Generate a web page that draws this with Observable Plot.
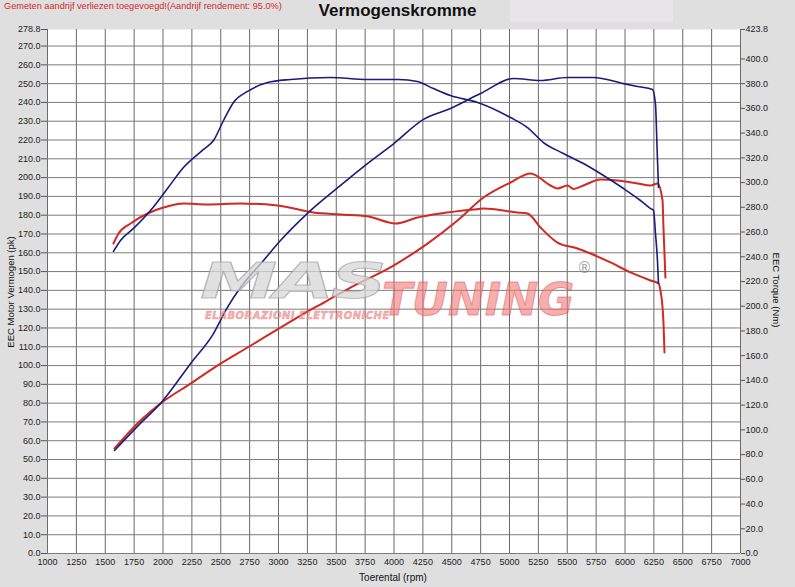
<!DOCTYPE html>
<html>
<head>
<meta charset="utf-8">
<script src="https://cdn.jsdelivr.net/npm/d3@7"></script>
<script src="https://cdn.jsdelivr.net/npm/@observablehq/plot@0.6"></script>
<style>
  body { margin: 0; background: #dfdfdf; }
  #wrap { position: relative; width: 795px; height: 587px; background: #dfdfdf; overflow: hidden; font-family: "Liberation Sans", Arial, sans-serif; }
  #wrap svg { position: absolute; left: 0; top: 0; }
  .abs { position: absolute; white-space: nowrap; }
  .wm { position: absolute; white-space: nowrap; pointer-events: none; line-height: 1; font-family: "DejaVu Sans", sans-serif; font-weight: bold; font-style: italic; }
</style>
</head>
<body>
<div id="wrap">
  <div class="abs" style="left:510px;top:0;width:163px;height:22px;background:#e7e5e7"></div>
  <div class="abs" style="left:4px;top:1px;font-size:9.2px;color:#d42a28">Gemeten aandrijf verliezen toegevoegd!(Aandrijf rendement: 95.0%)</div>
  <div class="abs" style="left:0;width:795px;top:1px;text-align:center;font-size:17px;font-weight:bold;color:#111">Vermogenskromme</div>
  <div id="chart"></div>
  <div class="abs" style="left:393px;top:572px;transform:translateX(-50%);font-size:10px;color:#111">Toerental (rpm)</div>
  <div class="abs" style="left:10px;top:292px;transform:translate(-50%,-50%) rotate(-90deg);font-size:9.5px;color:#111">EEC Motor Vermogen (pk)</div>
  <div class="abs" style="left:776px;top:290px;transform:translate(-50%,-50%) rotate(90deg);font-size:9.5px;color:#111">EEC Torque (Nm)</div>
  <div class="wm" style="left:200px;top:256px;font-size:50px;color:rgba(215,215,215,0.75);-webkit-text-stroke:1px rgba(150,150,150,0.6);transform:scaleX(1.55);transform-origin:left top;letter-spacing:-2px">MAS</div>
  <div class="wm" style="left:382px;top:277px;font-size:45px;color:rgba(240,120,120,0.6);-webkit-text-stroke:1px rgba(220,80,80,0.5);transform:scaleX(0.98);transform-origin:left top">TUNING</div>
  <div class="wm" style="left:205px;top:311px;font-size:10px;color:rgba(240,150,150,0.7);-webkit-text-stroke:0.5px rgba(220,80,80,0.5);letter-spacing:0.5px">ELABORAZIONI ELETTRONICHE</div>
  <div class="wm" style="left:577px;top:261px;font-size:15px;font-style:normal;font-weight:normal;color:rgba(140,140,140,0.8)">®</div>
</div>
<script>
// X axis ticks (rpm)
const xTicks = d3.range(1000, 7001, 250);
// Left axis (pk) and right axis (Nm) tick labels
const leftTicks = [...d3.range(0, 271, 10), 278.8];
const rightTicks = [...d3.range(0, 401, 20), 423.8];
const leftMax = 278.8, rightMax = 423.8;

// Blue run: power (pk)
const bluePowerRpm = [1580, 1800, 1978, 2238, 2437, 2558, 2671, 2870, 3017, 3251, 3500, 3770, 3996, 4255, 4489, 4749, 5035, 5268, 5502, 5727, 5987, 6108, 6238, 6264, 6278, 6290];
const bluePowerPk  = [54.8, 69.0, 79.8, 101.0, 117.0, 131.0, 141.5, 155.9, 166.5, 181.0, 194.0, 207.5, 218.0, 231.0, 236.8, 244.7, 252.7, 251.7, 253.3, 253.3, 250.0, 248.5, 246.9, 239.0, 215.0, 194.7];

// Red run: power (pk)
const redPowerRpm = [1580, 1805, 1978, 2238, 2498, 2732, 3017, 3190, 3424, 3623, 3996, 4290, 4550, 4775, 5009, 5182, 5355, 5415, 5502, 5554, 5640, 5788, 5935, 6108, 6221, 6281, 6325, 6333, 6350];
const redPowerPk  = [55.9, 70.8, 79.8, 90.4, 101.0, 109.6, 120.2, 126.6, 134.6, 141.5, 153.2, 164.9, 177.2, 189.4, 197.4, 202.2, 195.8, 194.2, 195.8, 194.0, 195.8, 199.0, 198.5, 196.9, 195.8, 196.9, 187.8, 173.5, 146.8];

// Blue run: torque (Nm)
const blueTorqueRpm = [1571, 1632, 1745, 1892, 2039, 2177, 2351, 2437, 2524, 2610, 2732, 2905, 3104, 3450, 3770, 4039, 4203, 4342, 4489, 4749, 5009, 5156, 5294, 5467, 5640, 5814, 5987, 6134, 6221, 6247, 6264, 6281, 6290];
const blueTorqueNm  = [244.3, 253.2, 262.9, 277.4, 295.2, 312.2, 326.8, 334.0, 350.2, 364.8, 373.7, 380.9, 383.4, 385.0, 383.4, 383.4, 381.7, 376.0, 370.4, 364.0, 352.6, 344.5, 332.4, 323.5, 315.4, 305.7, 295.2, 285.5, 279.0, 277.4, 258.8, 237.0, 218.4];

// Red run: torque (Nm)
const redTorqueRpm = [1571, 1615, 1719, 1866, 2004, 2177, 2385, 2671, 2991, 3303, 3537, 3770, 4013, 4203, 4403, 4688, 4775, 5069, 5156, 5268, 5415, 5589, 5701, 5874, 6048, 6221, 6290, 6307, 6325, 6333, 6342];
const redTorqueNm  = [250.7, 258.8, 266.9, 275.0, 279.8, 283.0, 282.3, 283.0, 281.5, 275.8, 274.2, 272.7, 266.9, 271.7, 275.0, 278.2, 279.0, 275.8, 275.0, 263.7, 251.5, 246.7, 242.6, 235.4, 227.3, 220.8, 218.4, 212.7, 199.0, 186.8, 162.6];

const k = leftMax / rightMax; // maps Nm onto the pk scale
const zip = (xs, ys) => xs.map((x, i) => ({rpm: x, v: ys[i]}));

const BLUE = "#1b1b7a", RED = "#cf2a24";

const chart = Plot.plot({
  width: 795, height: 587,
  marginLeft: 47, marginRight: 55, marginTop: 29, marginBottom: 34,
  x: {domain: [1000, 7000], label: null},
  y: {domain: [0, leftMax], label: null},
  style: {background: "transparent", fontFamily: "'Liberation Sans', Arial, sans-serif", fontSize: "9px", color: "#222", overflow: "visible"},
  marks: [
    Plot.frame({fill: "white", stroke: null}),
    Plot.gridX(xTicks, {stroke: "#6a6a6a", strokeOpacity: 1}),
    Plot.gridY(d3.range(0, 271, 10), {stroke: "#7c7c7c", strokeOpacity: 1}),
    Plot.axisX(xTicks, {tickSize: 0, tickPadding: 5, tickFormat: d => String(d), label: null, fontSize: 9}),
    Plot.axisY(leftTicks, {anchor: "left", tickSize: 6, tickPadding: 1, tickFormat: d => d.toFixed(1), label: null, stroke: "#555"}),
    Plot.axisY(rightTicks.map(t => t * k), {anchor: "right", tickSize: 4, tickPadding: 1, tickFormat: d => (d / k).toFixed(1), label: null, stroke: "#555"}),
    Plot.line(zip(redTorqueRpm, redTorqueNm), {x: "rpm", y: d => d.v * k, stroke: RED, strokeWidth: 2, curve: "monotone-x"}),
    Plot.line(zip(redPowerRpm, redPowerPk), {x: "rpm", y: "v", stroke: RED, strokeWidth: 2, curve: "monotone-x"}),
    Plot.line(zip(blueTorqueRpm, blueTorqueNm), {x: "rpm", y: d => d.v * k, stroke: BLUE, strokeWidth: 1.6, curve: "monotone-x"}),
    Plot.line(zip(bluePowerRpm, bluePowerPk), {x: "rpm", y: "v", stroke: BLUE, strokeWidth: 1.6, curve: "monotone-x"})
  ]
});
document.getElementById("chart").appendChild(chart);
</script>
</body>
</html>
